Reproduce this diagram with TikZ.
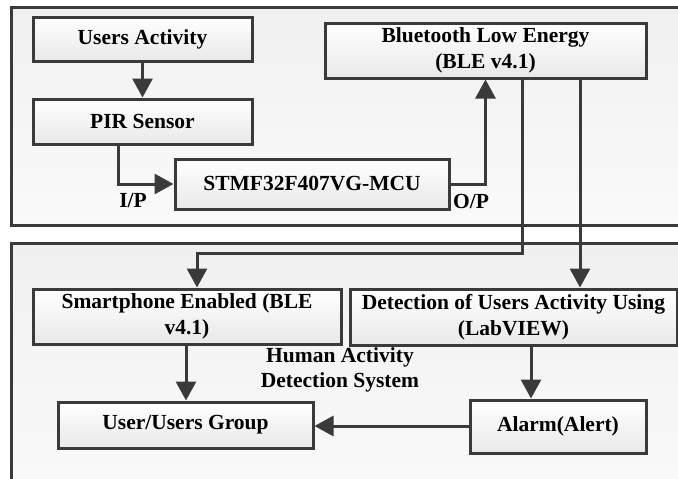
\documentclass[tikz,border=0pt]{standalone}
\usepackage{fontspec}
\setmainfont{Liberation Serif}
\usetikzlibrary{arrows.meta,shadows}
\definecolor{ln}{HTML}{3A3A3A}
\definecolor{panel}{HTML}{F0F0F0}
\tikzset{
  blk/.style={draw=ln, line width=3pt, top color=white, bottom color=gray!18,
    drop shadow={opacity=0.25, shadow xshift=1.5pt, shadow yshift=-1.5pt},
    inner sep=0pt, align=center, font=\fontsize{21.5}{26}\selectfont\bfseries},
  panelbox/.style={draw=ln, line width=3pt, top color=panel, bottom color=gray!4},
  conn/.style={draw=ln, line width=3pt},
  arr/.style={conn, -{Triangle[length=19pt,width=20pt]}},
  lbl/.style={inner sep=0pt, align=center, font=\fontsize{21.5}{25}\selectfont\bfseries}
}
\begin{document}
\begin{tikzpicture}[x=1pt,y=-1pt]
\useasboundingbox (0,0) rectangle (678,479);
\clip (0,0) rectangle (678,479);
\fill[white] (0,0) rectangle (678,479);
\draw[panelbox] (11,7) rectangle (700,225);
\draw[panelbox] (11,243) rectangle (700,500);

\node[blk, minimum width=219pt, minimum height=44pt] (ua) at (142.5,39) {Users Activity};
\node[blk, minimum width=219pt, minimum height=45pt] (pir) at (142.5,121.5) {PIR Sensor};
\node[blk, minimum width=274pt, minimum height=50pt] (mcu) at (312,184) {STMF32F407VG-MCU};
\node[blk, minimum width=321pt, minimum height=55pt] (ble) at (485.5,50.5) {Bluetooth Low Energy\\(BLE v4.1)};
\node[blk, minimum width=308pt, minimum height=55pt] (sp) at (187,316.5) {Smartphone Enabled (BLE\\v4.1)};
\node[blk, minimum width=327pt, minimum height=56pt] (det) at (513.5,317) {Detection of Users Activity Using\\(LabVIEW)};
\node[blk, minimum width=255pt, minimum height=46pt] (ug) at (185.5,425) {User/Users Group};
\node[blk, minimum width=176pt, minimum height=53pt] (al) at (558,426.5) {Alarm(Alert)};

\node[lbl] (ip) at (133,201) {I/P};
\node[lbl] (op) at (471,201) {O/P};
\node[lbl] (hads) at (340,370) {Human Activity\\Detection System};

\draw[arr] (ua.south) -- (pir.north);
\draw[arr] (pir.south -| 118,0) |- (mcu.west);
\draw[arr] (mcu.east) -| (ble.south);
\coordinate (b1) at (522,253);
\coordinate (b2) at (197,253);
\draw[arr] (ble.south -| b1) -- (b1) -- (b2) -- (sp.north -| b2);
\draw[arr] (ble.south -| 580,0) -- (det.north -| 580,0);
\draw[arr] (sp.south -| 186,0) -- (ug.north -| 186,0);
\draw[arr] (det.south -| 531,0) -- (al.north -| 531,0);
\draw[arr] (al.west |- 0,426) -- (ug.east |- 0,426);
\end{tikzpicture}
\end{document}
